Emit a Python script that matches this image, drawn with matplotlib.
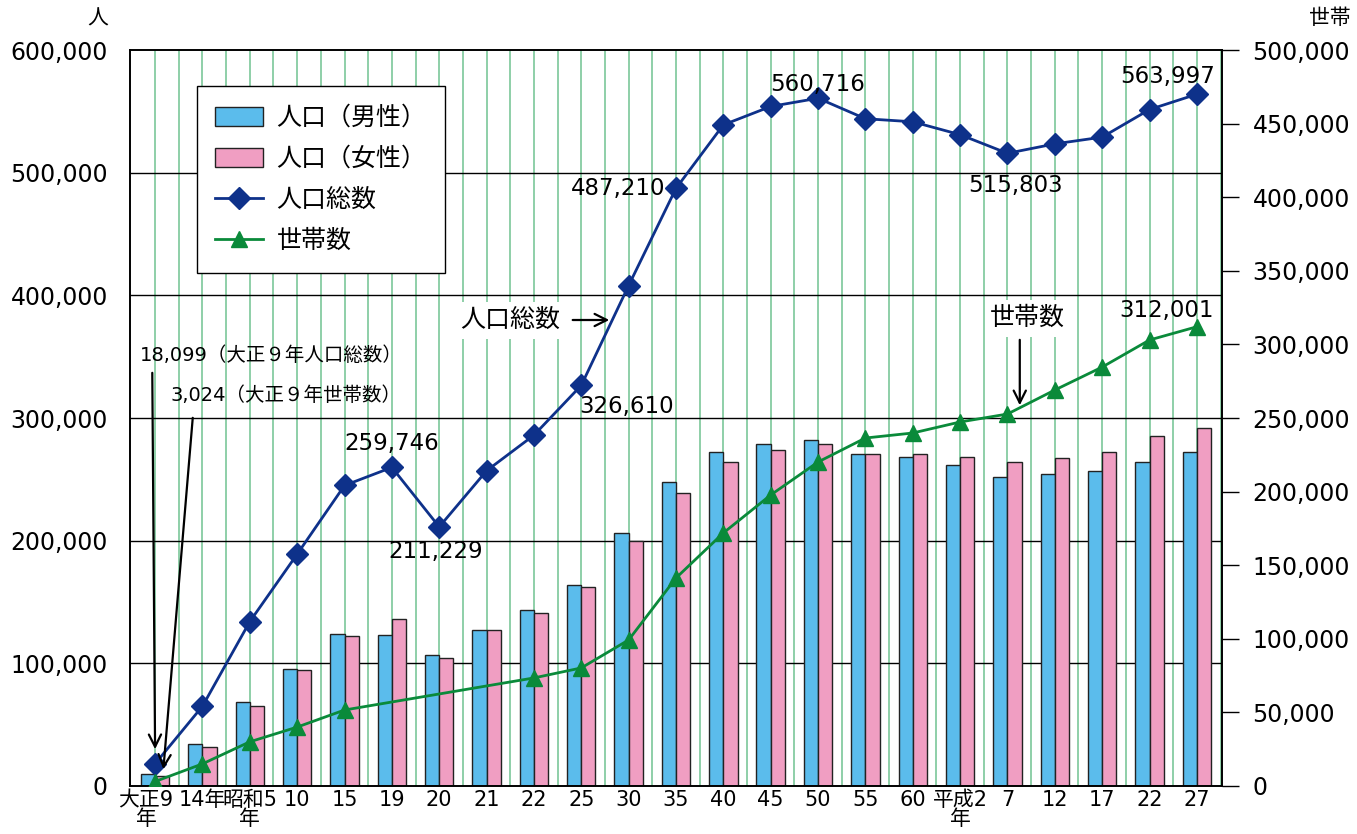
import matplotlib.pyplot as plt
import matplotlib.transforms as mtransforms
import numpy as np

plt.rcParams['font.family'] = ['Noto Sans CJK JP', 'DejaVu Sans']
NUM = ['DejaVu Sans', 'Noto Sans CJK JP']  # 数字は幅の広い書体で

# 年次ラベル
years = ['大正9\n年', '14年', '昭和5\n年', '10', '15', '19', '20', '21', '22', '25',
         '30', '35', '40', '45', '50', '55', '60', '平成2\n年', '7', '12', '17', '22', '27']

# 人口(男性・女性)
male = [9800, 34000, 68500, 95500, 124000, 123000, 107000, 127500, 143500, 164000,
        206000, 248000, 272500, 279000, 282000, 271000, 268500, 262000, 252000, 254500,
        256500, 264000, 272000]
female = [8300, 31500, 65500, 94500, 122000, 136500, 104000, 127500, 141000, 162500,
          200000, 239000, 264000, 274000, 278700, 271000, 271000, 268000, 264000, 267500,
          272000, 285500, 292000]

# 人口総数
total = [18099, 65000, 134000, 189000, 245000, 259746, 211229, 257000, 286000, 326610,
         408000, 487210, 539000, 554000, 560716, 544000, 541500, 531000, 515803, 523500,
         529000, 551500, 563997]

# 世帯数(昭和19〜21年はデータなし)
hh_idx = [0, 1, 2, 3, 4, 8, 9, 10, 11, 12, 13, 14, 15, 16, 17, 18, 19, 20, 21, 22]
households = [3024, 15000, 30000, 40000, 51600, 73400, 80200, 99200, 141300, 171900,
              197700, 220100, 236400, 239800, 247300, 252700, 269000, 284600, 303000, 312001]

x = np.arange(len(years))

fig = plt.figure(figsize=(13.57, 8.34), dpi=100)
ax = fig.add_axes([0.0958, 0.0576, 0.8047, 0.8824])
ax2 = ax.twinx()

# 縦の緑線・横の黒線
for v in np.arange(0, 23, 0.5):
    ax.axvline(v, color='#7cc79a', lw=1.2, zorder=0)
for v in range(100000, 600000, 100000):
    ax.axhline(v, color='black', lw=1.0, zorder=0.5)

w = 0.3
b1 = ax.bar(x - w / 2, male, w, color='#5bbcec', edgecolor='#222222', lw=1.0, zorder=2)
b2 = ax.bar(x + w / 2, female, w, color='#f09ec2', edgecolor='#222222', lw=1.0, zorder=2)
l1, = ax.plot(x, total, color='#0e318a', lw=2, marker='D', ms=11, zorder=4)

hx = [x[i] for i in hh_idx]
l2, = ax2.plot(hx, households, color='#0a8a3a', lw=2, marker='^', ms=12, zorder=4)

ax.set_xlim(-0.53, 22.53)
ax.set_ylim(0, 600000)
ax2.set_ylim(0, 500000)
ax.set_yticks(range(0, 600001, 100000))
ax.set_yticklabels([f'{v:,}' for v in range(0, 600001, 100000)], fontsize=17, family=NUM)
ax.tick_params(axis='y', length=0, pad=16)
ax2.set_yticks(range(0, 500001, 50000))
ax2.set_yticklabels([f'{v:,}' for v in range(0, 500001, 50000)], fontsize=17, family=NUM)
ax2.tick_params(axis='y', length=12, width=1, pad=10)
ax.set_xticks(x)
ax.set_xticklabels(years, fontsize=15, linespacing=0.95, family=NUM)
ax.tick_params(axis='x', length=0, pad=3)
first = ax.get_xticklabels()[0]
first.set_transform(first.get_transform() + mtransforms.ScaledTranslation(-9 / 100, 0, fig.dpi_scale_trans))
for s in ['left', 'right', 'top', 'bottom']:
    ax.spines[s].set_linewidth(1.2)
    ax2.spines[s].set_linewidth(1.2)

leg = ax2.legend([b1, b2, l1, l2], ['人口（男性）', '人口（女性）', '人口総数', '世帯数'],
                 loc='upper left', bbox_to_anchor=(0.061, 0.951), fontsize=18, frameon=True,
                 fancybox=False, edgecolor='black', framealpha=1, borderpad=0.75,
                 labelspacing=0.6, handlelength=1.9, handleheight=0.8, handletextpad=0.55,
                 borderaxespad=0)
leg.get_frame().set_linewidth(1.0)

fig.text(0.072, 0.978, '人', fontsize=15, ha='center', va='center')
fig.text(0.980, 0.978, '世帯', fontsize=15, ha='center', va='center')

# 数値ラベル
lab = dict(fontsize=16.5, ha='center', va='center', zorder=6, family=NUM)
ax.text(5.0, 279600, '259,746', **lab)
ax.text(5.93, 190800, '211,229', **lab)
ax.text(9.95, 309000, '326,610', **lab)
ax.text(9.78, 487500, '487,210', **lab)
ax.text(14.0, 571500, '560,716', **lab)
ax.text(18.16, 489900, '515,803', **lab)
ax.text(21.39, 578800, '563,997', **lab)
ax.text(21.35, 388000, '312,001', **lab)

ax.text(-0.32, 351300, '18,099（大正９年人口総数）', fontsize=14, ha='left', va='center', zorder=6, family=NUM)
ax.text(0.32, 318700, '3,024（大正９年世帯数）', fontsize=14, ha='left', va='center', zorder=6, family=NUM)
arr = dict(arrowstyle='->', color='black', lw=1.6, mutation_scale=22)
ax.annotate('', xy=(0.0, 27700), xytext=(-0.06, 339100), arrowprops=arr, zorder=6)
ax.annotate('', xy=(0.17, 11400), xytext=(0.80, 302400), arrowprops=arr, zorder=6)

box = dict(facecolor='white', edgecolor='none', pad=4)
ax.text(8.55, 379900, '人口総数', fontsize=18, ha='right', va='center', bbox=box, zorder=6)
ax.annotate('', xy=(9.65, 379900), xytext=(8.76, 379900), arrowprops=arr, zorder=6)
ax.text(18.43, 381500, '世帯数', fontsize=18, ha='center', va='center', bbox=box, zorder=6)
ax.annotate('', xy=(18.26, 308100), xytext=(18.26, 366000), arrowprops=arr, zorder=6)

fig.savefig('out.png', dpi=100)
